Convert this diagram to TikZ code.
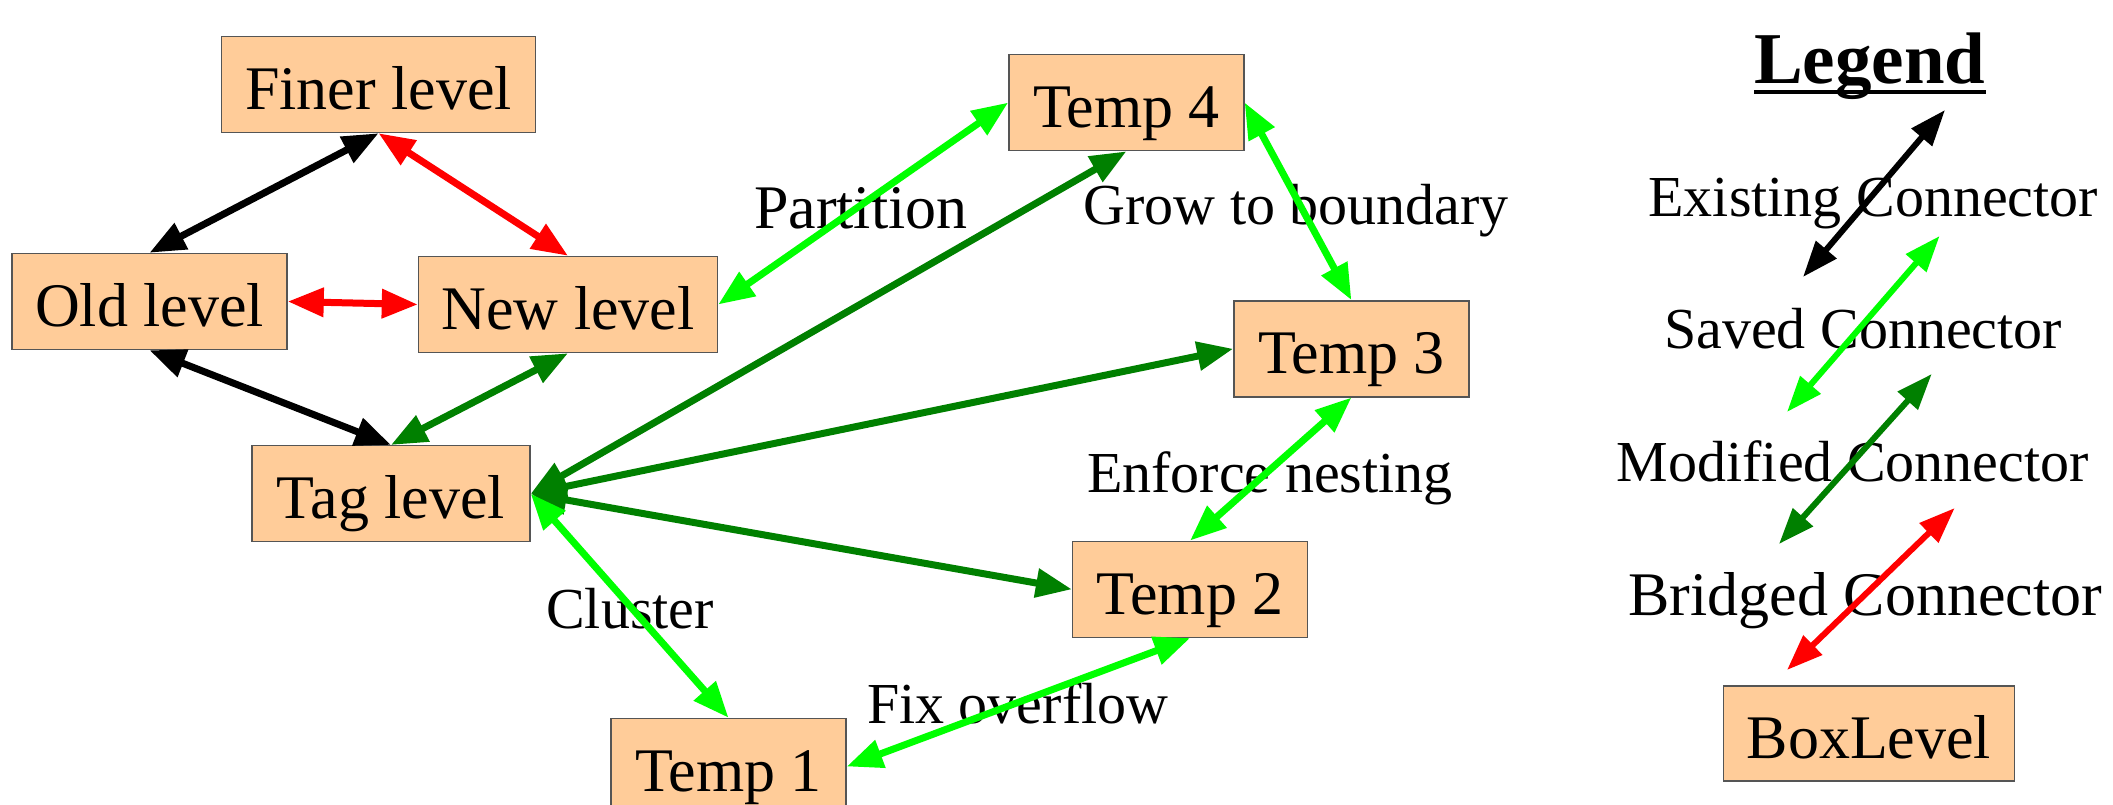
\documentclass[tikz,border=0pt]{standalone}
\usepackage{fontspec}
\setmainfont{Liberation Serif}
\usetikzlibrary{arrows.meta,calc}
\definecolor{peach}{HTML}{FFCC99}
\definecolor{lgreen}{HTML}{00FF00}
\definecolor{dgreen}{HTML}{008000}
\definecolor{bred}{HTML}{FF0000}
\definecolor{boxedge}{HTML}{555555}
\newcommand{\bigtxt}{\fontsize{62}{70}\selectfont}
\newcommand{\labtxt}{\fontsize{58}{66}\selectfont}
\begin{document}
\begin{tikzpicture}[x=1pt,y=-1pt,
 lvl/.style={draw=boxedge, line width=1.5pt, fill=peach, inner sep=0pt, minimum height=96pt, font=\bigtxt, text height=56pt, text depth=6pt},
 conn/.style={line width=7pt, {Triangle[length=36pt,width=28pt]}-{Triangle[length=36pt,width=28pt]}},
 legconn/.style={line width=6pt, {Triangle[length=36pt,width=26pt]}-{Triangle[length=36pt,width=26pt]}},
 lab/.style={anchor=base west, inner sep=0pt, font=\labtxt}
]
\path[use as bounding box] (0,0) rectangle (2113,805);

% boxes
\node[lvl, minimum width=314pt] (finer) at (378.6,84.5) {Finer level};
\node[lvl, minimum width=275pt] (old) at (149.5,301.5) {Old level};
\node[lvl, minimum width=299pt] (new) at (568,304.5) {New level};
\node[lvl, minimum width=278pt] (tag) at (391,493.7) {Tag level};
\node[lvl, minimum width=235pt] (t4) at (1126.4,102.6) {Temp 4};
\node[lvl, minimum width=235pt] (t3) at (1351.4,348.8) {Temp 3};
\node[lvl, minimum width=235pt] (t2) at (1190.1,589.3) {Temp 2};
\node[lvl, minimum width=235pt] (t1) at (728.5,766.5) {Temp 1};
\node[lvl, minimum width=291pt, minimum height=95pt] (bl) at (1868.9,733.5) {BoxLevel};

% labels
\node[lab, font=\bigtxt] (lpart) at (753.8,228.4) {Partition};
\node[lab] (lgrow) at (1083.3,225) {Grow to boundary};
\node[lab] (lenf) at (1086.8,492.8) {Enforce nesting};
\node[lab] (lfix) at (866.9,723.8) {Fix overflow};
\node[lab] (lclu) at (546,628.3) {Cluster};

% legend
\node[anchor=base west, inner sep=0pt, font=\fontsize{73}{80}\selectfont\bfseries] (leg) at (1754,83.3) {Legend};
\draw[line width=4pt] ($(leg.base west)+(0,8.4)$) -- ($(leg.base east)+(0,8.4)$);
\node[lab] (lexist) at (1648.3,216.7) {Existing Connector};
\node[lab] (lsaved) at (1664,348) {Saved Connector};
\node[lab] (lmod) at (1616.7,481.7) {Modified Connector};
\node[lab, font=\bigtxt] (lbr) at (1628.3,615) {Bridged Connector};

\coordinate (e1) at (1803,277); \coordinate (e2) at (1945,110);
\coordinate (s1) at (1787,412); \coordinate (s2) at (1939.6,236);
\coordinate (m1) at (1779,544); \coordinate (m2) at (1931.7,374);
\coordinate (b1) at (1787,670); \coordinate (b2) at (1954.7,508);
\draw[legconn, black] (e1) -- (e2);
\draw[legconn, lgreen] (s1) -- (s2);
\draw[legconn, dgreen] (m1) -- (m2);
\draw[legconn, bred] (b1) -- (b2);

% connectors
\draw[conn, black] (old.north) -- (finer.south);
\draw[conn, bred] (finer.south) -- (new.north);
\draw[conn, bred] (old.east) -- (new.west);
\draw[conn, black] (old.south) -- (tag.north);
\draw[conn, dgreen] (new.south) -- (tag.north);
\draw[conn, dgreen] (tag.east) -- (t4.south);
\draw[conn, dgreen] (tag.east) -- (t3.west);
\draw[conn, dgreen] (tag.east) -- (t2.west);
\draw[conn, lgreen] (tag.east) -- (t1.north);
\draw[conn, lgreen] (new.east) -- (t4.west);
\draw[conn, lgreen] (t4.east) -- (t3.north);
\draw[conn, lgreen] (t3.south) -- (t2.north);
\draw[conn, lgreen] (t2.south) -- (t1.east);
\end{tikzpicture}
\end{document}
